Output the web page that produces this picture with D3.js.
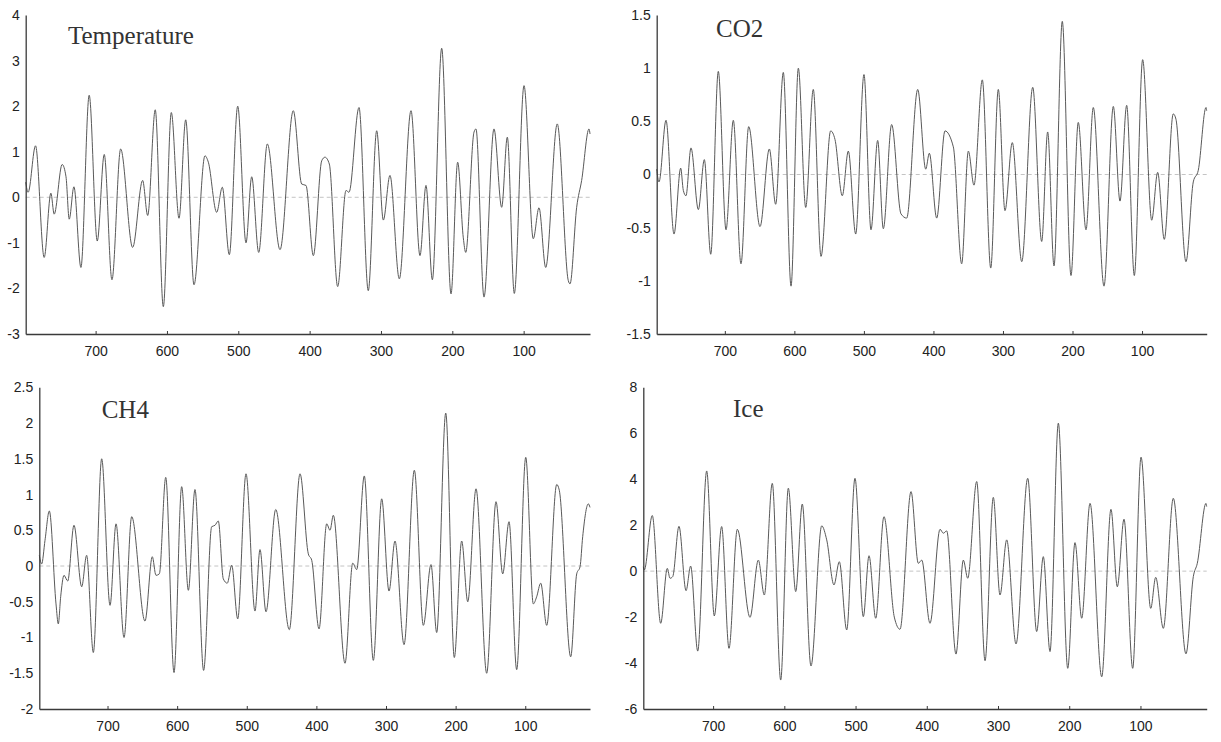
<!DOCTYPE html>
<html>
<head>
<meta charset="utf-8">
<script src="https://cdn.jsdelivr.net/npm/d3@7"></script>
<style>
  html, body { margin: 0; padding: 0; background: #fff; }
  svg { display: block; }
</style>
</head>
<body>
<svg id="chart" width="1221" height="742"></svg>
<script>
// Time axis (thousands of years before present), shared by all panels
const yearDomain = [798, 7];
const xTickValues = [700, 600, 500, 400, 300, 200, 100];

// Temperature anomaly: turning points of the record
const tempYears = [798, 794.6, 784.2, 772.1, 762.7, 758.1, 746.9, 741.5, 737, 730.4, 720.6, 709, 697.7, 687.9, 677.1, 664.9, 648.1, 634.1, 627, 616.4, 605.1, 593.9, 583.1, 573.7, 562.1, 546.7, 542, 530.3, 522.4, 512.6, 500.8, 489.2, 481.2, 471.4, 459.3, 441.5, 422.9, 411.1, 405.1, 394.8, 383.1, 378.5, 372.4, 360.7, 349, 344.8, 330.8, 317.8, 306, 296.7, 287.4, 274.3, 257.9, 245.3, 236.9, 228, 214.9, 201.8, 192.5, 184.6, 181.2, 169.6, 166.8, 155.6, 141.6, 130.8, 122.9, 113.1, 99.5, 86.5, 78.5, 69.1, 52.9, 37.4, 35, 25.7, 18.7, 8.4, 7];
const tempValues = [0.33, 0.11, 1.13, -1.32, 0.09, -0.37, 0.72, 0.45, -0.48, 0.23, -1.54, 2.24, -0.96, 0.94, -1.81, 1.06, -1.1, 0.37, -0.4, 1.92, -2.4, 1.86, -0.46, 1.7, -1.92, 0.91, 0.77, -0.33, 0.22, -1.26, 2.0, -1.0, 0.45, -1.21, 1.17, -1.15, 1.9, 0.29, 0.26, -1.28, 0.8, 0.88, 0.73, -1.96, 0.15, 0.11, 1.97, -2.05, 1.46, -0.5, 0.48, -1.79, 1.9, -1.28, 0.26, -1.81, 3.27, -2.12, 0.77, -0.89, -1.21, 1.43, 1.5, -2.19, 1.5, -0.22, 1.32, -2.11, 2.45, -0.91, -0.23, -1.54, 1.61, -1.83, -1.9, -0.22, 0.37, 1.5, 1.39];

// CO2 anomaly
const co2Years = [798, 794.7, 784.6, 773.1, 763.5, 759.7, 755.9, 748.7, 738.1, 729.5, 720.3, 709.4, 698.3, 687.8, 676.8, 665.7, 649.4, 636, 626.9, 615.9, 604.8, 594.3, 583.7, 572.8, 561.7, 547.8, 541.6, 531.1, 522.4, 511.8, 499.9, 489.8, 480.2, 472.1, 460.1, 446.7, 438.5, 422.6, 411.1, 405.9, 395.3, 383.4, 371.4, 359.4, 349.8, 341.7, 329.7, 317.6, 306.7, 297.1, 286.6, 273, 257.2, 244.3, 235.7, 226.6, 214.7, 202.2, 191.7, 180.6, 170.1, 154.7, 141.3, 131.7, 122.1, 111.1, 99.1, 86.1, 77.5, 68, 55.1, 51.2, 36.8, 26.3, 19.1, 8, 7];
const co2Values = [0.05, -0.07, 0.51, -0.56, 0.06, -0.15, -0.2, 0.25, -0.33, 0.14, -0.75, 0.97, -0.52, 0.51, -0.84, 0.45, -0.49, 0.24, -0.28, 0.96, -1.05, 1.0, -0.31, 0.8, -0.77, 0.41, 0.33, -0.2, 0.22, -0.56, 0.94, -0.52, 0.32, -0.51, 0.47, -0.37, -0.41, 0.8, 0.05, 0.2, -0.41, 0.41, 0.26, -0.84, 0.22, -0.1, 0.89, -0.88, 0.8, -0.34, 0.3, -0.82, 0.82, -0.63, 0.4, -0.86, 1.44, -0.95, 0.49, -0.52, 0.63, -1.05, 0.64, -0.25, 0.65, -0.95, 1.08, -0.43, 0.02, -0.61, 0.57, 0.52, -0.82, -0.07, 0.04, 0.63, 0.6];

// CH4 anomaly
const ch4Years = [798, 794.6, 789.8, 783.6, 774, 770.7, 767.3, 762.5, 757.2, 748.2, 737.1, 730, 720.4, 708.4, 696.4, 687.8, 676.3, 665.3, 646.2, 635.7, 630.4, 625.6, 616.4, 604.5, 593.5, 583.9, 574.4, 562, 550.4, 545.6, 540.9, 533.7, 528, 521.6, 513, 501.1, 488.2, 481, 472.4, 458.4, 438.9, 423.5, 411.6, 406.7, 396.2, 385.2, 380.4, 375.7, 358.9, 347.8, 342.1, 331.2, 318.2, 306.2, 295.7, 287.1, 274.1, 259.3, 246.4, 235.4, 227.2, 214.2, 201.9, 191.3, 182.6, 170.7, 155.4, 142, 132.4, 123.3, 112.3, 99.3, 88.4, 83.6, 77.8, 69.2, 54.8, 51.1, 34.7, 26.1, 21.3, 17.5, 9.4, 7];
const ch4Values = [0.15, 0.03, 0.36, 0.77, -0.53, -0.81, -0.43, -0.13, -0.21, 0.57, -0.29, 0.15, -1.21, 1.5, -0.55, 0.59, -1.0, 0.69, -0.77, 0.13, -0.13, -0.11, 1.24, -1.49, 1.11, -0.34, 1.07, -1.46, 0.55, 0.57, 0.63, -0.18, -0.24, 0.01, -0.74, 1.29, -0.63, 0.23, -0.64, 0.79, -0.89, 1.29, 0.17, 0.08, -0.88, 0.59, 0.5, 0.71, -1.36, 0.04, -0.05, 1.26, -1.32, 0.94, -0.35, 0.35, -1.1, 1.34, -0.83, 0.02, -0.93, 2.14, -1.28, 0.35, -0.5, 1.08, -1.5, 0.9, -0.11, 0.62, -1.45, 1.52, -0.53, -0.43, -0.24, -0.83, 1.14, 1.06, -1.27, -0.11, -0.01, 0.41, 0.87, 0.82];

// Ice volume anomaly
const iceYears = [798, 796.6, 785.4, 773.6, 764.3, 760.5, 756.7, 747.9, 738, 731.5, 721.6, 709, 698.3, 688, 677.7, 666, 648.2, 636.5, 628.1, 616.9, 605.1, 594.4, 584, 574.8, 562.6, 547.5, 540.5, 530.3, 522.8, 512.4, 500.8, 489.1, 481.1, 471.7, 460.1, 445.6, 437.6, 422.1, 411.9, 407.1, 395.5, 381.4, 376.8, 372, 359, 348.7, 342.5, 329.9, 318.2, 306.6, 297.2, 287.8, 274.7, 258.3, 245.7, 236.4, 227, 215.3, 202.1, 191.9, 182.5, 170.8, 154.4, 141.4, 132.5, 123.1, 110.9, 99.2, 85.6, 78.6, 67.9, 53.9, 36.1, 25.8, 20.2, 8, 7];
const iceValues = [0.19, 0.05, 2.42, -2.27, 0.12, -0.31, -0.24, 1.95, -0.85, 0.22, -3.48, 4.36, -1.95, 1.94, -3.36, 1.82, -2.01, 0.48, -1.04, 3.82, -4.74, 3.61, -0.89, 2.92, -4.13, 1.97, 1.36, -0.6, 0.41, -2.56, 4.04, -1.98, 0.67, -2.05, 2.37, -2.0, -2.53, 3.46, 0.34, 0.48, -2.27, 1.82, 1.65, 1.75, -3.61, 0.48, -0.31, 3.9, -3.9, 3.21, -1.04, 1.36, -3.17, 4.04, -2.63, 0.63, -3.5, 6.44, -4.23, 1.24, -2.05, 2.95, -4.6, 2.69, -0.68, 2.26, -4.23, 4.96, -1.62, -0.27, -2.49, 3.17, -3.6, -0.24, 0.34, 2.95, 2.81];

// Panel titles and value-axis ticks
const titles = ["Temperature", "CO2", "CH4", "Ice"];
const tempTicks = [-3, -2, -1, 0, 1, 2, 3, 4];
const co2Ticks = [-1.5, -1, -0.5, 0, 0.5, 1, 1.5];
const ch4Ticks = [-2, -1.5, -1, -0.5, 0, 0.5, 1, 1.5, 2, 2.5];
const iceTicks = [-6, -4, -2, 0, 2, 4, 6, 8];

// Layout of the four panels (plot-area edges in pixels)
const panels = [
  { title: titles[0], years: tempYears, values: tempValues, ticks: tempTicks,
    left: 25.7, right: 590, top: 15, bottom: 334, tx: 68, ty: 44 },
  { title: titles[1], years: co2Years, values: co2Values, ticks: co2Ticks,
    left: 656.7, right: 1206.7, top: 15, bottom: 334, tx: 716, ty: 37 },
  { title: titles[2], years: ch4Years, values: ch4Values, ticks: ch4Ticks,
    left: 39.3, right: 590, top: 387.3, bottom: 709, tx: 101.7, ty: 418 },
  { title: titles[3], years: iceYears, values: iceValues, ticks: iceTicks,
    left: 643.3, right: 1206.7, top: 387.3, bottom: 709, tx: 733, ty: 417 }
];

const svg = d3.select("#chart");
const axisColor = "#3a3a3a";
const labelFont = "'Liberation Sans', Arial, sans-serif";

panels.forEach(p => {
  const x = d3.scaleLinear().domain(yearDomain).range([p.left, p.right]);
  const y = d3.scaleLinear()
    .domain([p.ticks[0], p.ticks[p.ticks.length - 1]])
    .range([p.bottom, p.top]);

  const g = svg.append("g");

  // zero reference line
  g.append("line")
    .attr("x1", p.left).attr("x2", p.right)
    .attr("y1", y(0)).attr("y2", y(0))
    .attr("stroke", "#c4c4c4").attr("stroke-width", 1)
    .attr("stroke-dasharray", "4,3");

  // series
  const pts = p.years.map((yr, i) => [yr, p.values[i]]);
  const line = d3.line()
    .x(d => x(d[0]))
    .y(d => y(d[1]))
    .curve(d3.curveMonotoneX);
  g.append("path")
    .datum(pts)
    .attr("d", line)
    .attr("fill", "none")
    .attr("stroke", "#595959")
    .attr("stroke-width", 1)
    .attr("stroke-linejoin", "round");

  // bottom axis: ticks point inward, labels below
  const xAxis = d3.axisBottom(x)
    .tickValues(xTickValues)
    .tickSizeInner(-3)
    .tickSizeOuter(0)
    .tickPadding(12)
    .tickFormat(d3.format("d"));
  const gx = g.append("g")
    .attr("transform", `translate(0,${p.bottom})`)
    .call(xAxis);
  gx.select(".domain").attr("stroke", axisColor).attr("stroke-width", 1.6);
  gx.selectAll(".tick line").attr("stroke", axisColor);
  gx.selectAll(".tick text")
    .attr("fill", "#222")
    .style("font-family", labelFont)
    .style("font-size", "14px");

  // left axis: labels only
  const yAxis = d3.axisLeft(y)
    .tickValues(p.ticks)
    .tickSizeInner(0)
    .tickSizeOuter(0)
    .tickPadding(6)
    .tickFormat(v => String(v));
  const gy = g.append("g")
    .attr("transform", `translate(${p.left},0)`)
    .call(yAxis);
  gy.select(".domain").attr("stroke", axisColor).attr("stroke-width", 1.3);
  gy.selectAll(".tick text")
    .attr("fill", "#222")
    .style("font-family", labelFont)
    .style("font-size", "14px");

  // panel title
  g.append("text")
    .attr("x", p.tx).attr("y", p.ty)
    .attr("fill", "#333")
    .style("font-family", "'Liberation Serif', 'Times New Roman', serif")
    .style("font-size", "25px")
    .text(p.title);
});
</script>
</body>
</html>
